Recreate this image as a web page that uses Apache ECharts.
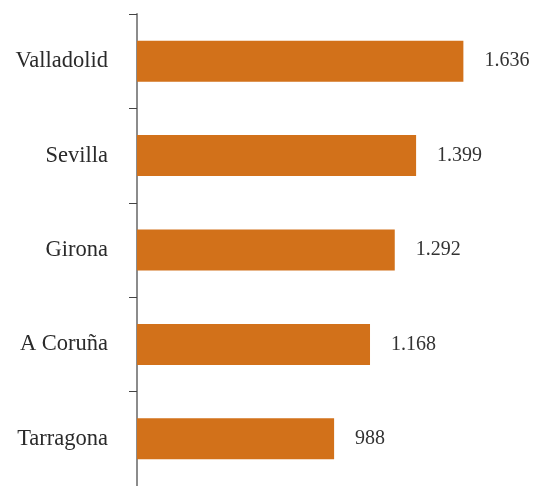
<!DOCTYPE html>
<html><head><meta charset="utf-8">
<script src="https://cdn.jsdelivr.net/npm/echarts@6/dist/echarts.min.js"></script>
<style>html,body{margin:0;padding:0;background:#fff}#c{width:536px;height:486px}</style>
</head><body><div id="c"></div>
<script>
var categories = ['Valladolid', 'Sevilla', 'Girona', 'A Coruña', 'Tarragona'];
var values = [1636, 1399, 1292, 1168, 988];

function fmt(v) {
  return String(v).replace(/\B(?=(\d{3})+(?!\d))/g, '.');
}

var chart = echarts.init(document.getElementById('c'));
chart.setOption({
  animation: false,
  grid: { left: 137, top: 14, width: 403, height: 477.5, containLabel: false },
  xAxis: {
    type: 'value', min: 0, max: 2000, show: false
  },
  yAxis: {
    type: 'category', data: categories, inverse: true,
    axisLine: { show: true, lineStyle: { color: '#8c8c8c', width: 2 } },
    axisTick: { show: true, length: 8, lineStyle: { color: '#444', width: 1 } },
    axisLabel: { margin: 29, color: '#2a2a2a', fontFamily: 'Liberation Serif', fontSize: 22.5 }
  },
  series: [{
    type: 'bar', data: values, barWidth: 41,
    itemStyle: { color: '#D2711A' },
    label: {
      show: true, position: 'right', distance: 21,
      fontFamily: 'Liberation Serif', fontSize: 20, color: '#333',
      formatter: function (p) { return fmt(p.value); }
    }
  }]
});
</script></body></html>
